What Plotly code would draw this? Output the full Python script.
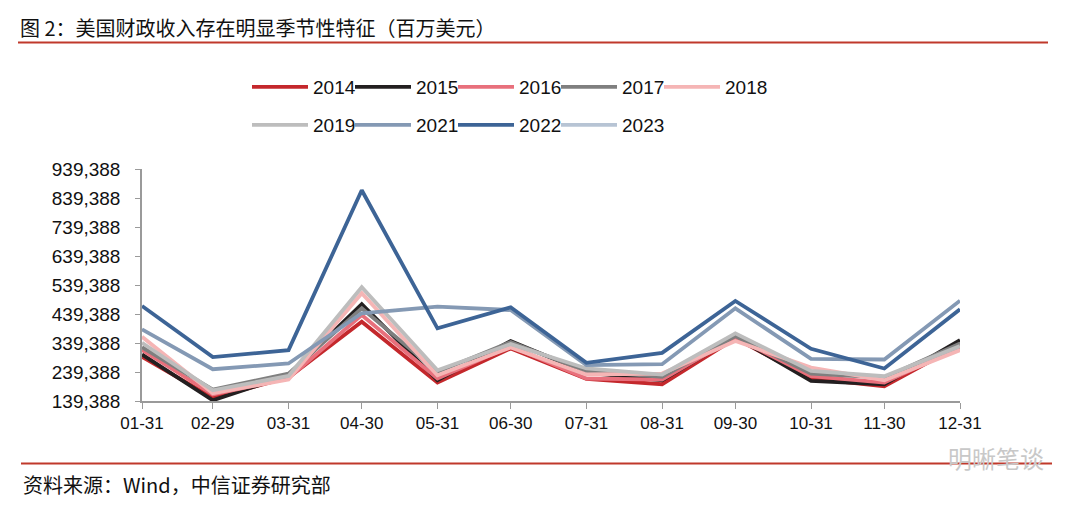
import plotly.graph_objects as go

# ---------------- data ----------------
dates = ["2024-01-31", "2024-02-29", "2024-03-31", "2024-04-30", "2024-05-31", "2024-06-30",
         "2024-07-31", "2024-08-31", "2024-09-30", "2024-10-31", "2024-11-30", "2024-12-31"]
tick_labels = ["01-31", "02-29", "03-31", "04-30", "05-31", "06-30",
               "07-31", "08-31", "09-30", "10-31", "11-30", "12-31"]

y2014 = [291600, 151000, 220000, 412700, 203000, 320700, 215500, 197200, 355300, 216900, 190200, 332000]
y2015 = [300000, 141800, 228300, 472900, 211000, 346000, 237600, 211000, 360800, 208600, 197200, 349400]
y2016 = [314800, 161500, 218000, 435900, 216900, 328600, 216900, 213000, 358700, 224800, 203000, 325000]
y2017 = [325000, 178800, 234000, 459000, 239700, 342500, 242000, 222400, 363300, 234000, 220000, 338000]
y2018 = [360800, 166000, 213400, 511000, 228000, 324000, 230700, 234000, 346000, 254900, 211000, 314800]
y2019 = [340000, 176400, 225900, 531700, 245600, 335600, 251500, 230700, 372600, 243000, 224800, 328600]
y2021 = [386400, 249000, 268800, 441800, 464600, 453000, 263000, 266400, 459000, 284700, 282600, 485400]
y2022 = [467000, 290600, 314800, 866000, 390000, 462600, 270900, 305500, 484400, 319300, 251500, 455600]
y2023 = [None] * 12

y_min = 139388
y_max = 939388
y_step = 100000

series = [
    ("2014", y2014, "#C4282C", "legend"),
    ("2015", y2015, "#231F20", "legend"),
    ("2016", y2016, "#E8707C", "legend"),
    ("2017", y2017, "#7F7F7F", "legend"),
    ("2018", y2018, "#F5B5B5", "legend"),
    ("2019", y2019, "#BDBDBD", "legend2"),
    ("2021", y2021, "#8499B4", "legend2"),
    ("2022", y2022, "#3D6496", "legend2"),
    ("2023", y2023, "#B7C4D4", "legend2"),
]
last_in_row = {"2018", "2023"}

W, H = 1080, 507
ML, MR, MT, MB = 142, 120, 169, 106
PW, PH = W - ML - MR, H - MT - MB


def px_x(px):
    return (px - ML) / PW


def px_y(py):
    return (H - MB - py) / PH


CJK = "Noto Sans CJK SC"
LAT = "Liberation Sans, Arial, " + CJK

fig = go.Figure()
for name, ys, color, lg in series:
    tr = dict(
        x=dates, y=ys, name=name, mode="lines",
        line=dict(color=color, width=3.8),
        legend=lg, connectgaps=False,
    )
    if name in last_in_row:
        tr["legendwidth"] = 50
    fig.add_trace(go.Scatter(**tr))

legend_common = dict(
    orientation="h", xref="container", yref="container",
    xanchor="left", yanchor="middle",
    font=dict(family=LAT, size=19, color="#111111"),
    itemwidth=56, entrywidth=32, entrywidthmode="pixels",
    bgcolor="rgba(0,0,0,0)", borderwidth=0, tracegroupgap=0,
    itemclick=False, itemdoubleclick=False,
)

fig.update_layout(
    width=W, height=H,
    margin=dict(l=ML, r=MR, t=MT, b=MB),
    paper_bgcolor="white", plot_bgcolor="white",
    showlegend=True,
    legend=dict(x=247 / W, y=1 - 87 / H, **legend_common),
    legend2=dict(x=247 / W, y=1 - 125 / H, **legend_common),
    title=dict(
        text="图 2：美国财政收入存在明显季节性特征（百万美元）",
        xref="container", yref="container", x=20 / W, y=1 - 29 / H,
        xanchor="left", yanchor="middle",
        font=dict(family=CJK, size=20, color="#111111"),
    ),
    xaxis=dict(
        type="date",
        range=[dates[0], dates[-1]],
        tickmode="array", tickvals=dates, ticktext=tick_labels,
        showgrid=False, zeroline=False,
        showline=True, linecolor="#9A9A9A", linewidth=1.5,
        ticks="outside", ticklen=6, tickcolor="#9A9A9A", tickwidth=1,
        tickfont=dict(family=LAT, size=17, color="#111111"),
        fixedrange=True,
    ),
    yaxis=dict(
        range=[y_min, y_max],
        tickmode="linear", tick0=y_min, dtick=y_step,
        tickformat=",d",
        showgrid=False, zeroline=False,
        showline=True, linecolor="#9A9A9A", linewidth=1.5,
        ticks="outside", ticklen=5, tickcolor="#9A9A9A", tickwidth=1,
        ticklabelstandoff=11,
        tickfont=dict(family=LAT, size=19, color="#111111"),
        fixedrange=True,
    ),
)

# red rules under the title and above the source note
for py, x0, x1 in [(42.5, 18, 1048), (463.5, 21, 1052)]:
    fig.add_shape(type="line", xref="paper", yref="paper",
                  x0=px_x(x0), x1=px_x(x1), y0=px_y(py), y1=px_y(py),
                  line=dict(color="#C0392B", width=2))

fig.add_annotation(
    text="资料来源：Wind，中信证券研究部",
    xref="paper", yref="paper", x=px_x(21), y=px_y(484),
    xanchor="left", yanchor="middle", showarrow=False,
    font=dict(family=CJK, size=20, color="#111111"),
)
fig.add_annotation(
    text="明晰笔谈",
    xref="paper", yref="paper", x=px_x(1046), y=px_y(457),
    xanchor="right", yanchor="middle", showarrow=False,
    font=dict(family=CJK, size=24, color="#C8C8C8"),
)

fig.write_html(
    "out.html",
    config={"displayModeBar": False},
    post_script="document.body.style.margin='0';document.body.style.overflow='hidden';",
)
